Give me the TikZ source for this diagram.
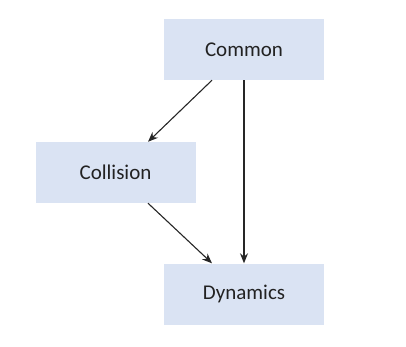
\documentclass[tikz,border=0pt]{standalone}
\usepackage{fontspec}
\setmainfont{Carlito}
\usepackage{xcolor}
\usetikzlibrary{arrows.meta}
\definecolor{cajaazul}{HTML}{DAE3F3}
\definecolor{textogris}{HTML}{222222}
\tikzset{
    caja/.style = {fill = cajaazul, minimum width = 160pt, minimum height = 61pt,
                   inner sep = 0pt, text = textogris, font = \fontsize{21}{25}\selectfont},
    flecha/.style = {-{Stealth[length = 10pt, width = 8pt]}, line width = 1.1pt, color = black!85}
}
\begin{document}
\begin{tikzpicture}[x = 1pt, y = -1pt]
    % Fijar el marco de la figura
    \useasboundingbox (0,0) rectangle (406,347);

    % Dibujar las cajas
    \node[caja] (common)    at (244,49.5)  {Common};    % Caja superior
    \node[caja] (collision) at (115.5,172.5) {Collision}; % Caja izquierda
    \node[caja] (dynamics)  at (244,294)   {Dynamics};  % Caja inferior

    % Dibujar las flechas
    \draw[flecha] (212,0 |- common.south) -- (148,0 |- collision.north);
    \draw[flecha] (common.south) -- (dynamics.north);
    \draw[flecha] (148,0 |- collision.south) -- (212,0 |- dynamics.north);

\end{tikzpicture}
\end{document}
